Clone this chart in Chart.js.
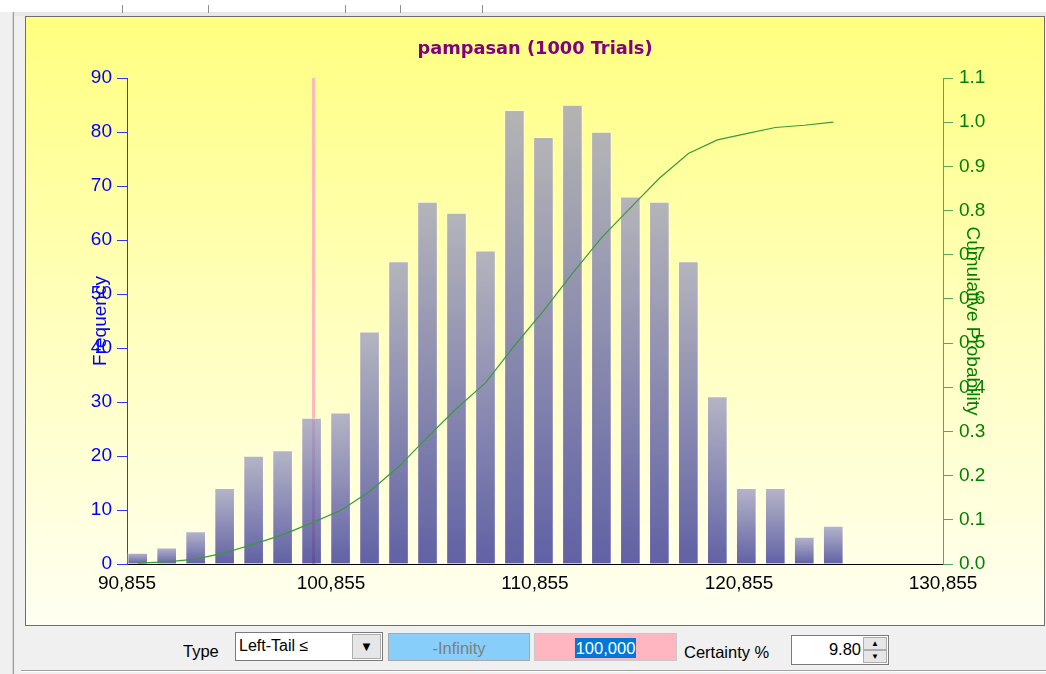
<!DOCTYPE html>
<html>
<head>
<meta charset="utf-8">
<script src="https://cdn.jsdelivr.net/npm/chart.js@4"></script>
<style>
  html, body { margin:0; padding:0; }
  body { width:1046px; height:674px; position:relative; overflow:hidden; background:#f0f0f0; font-family:"Liberation Sans", Arial, sans-serif; }
  #topwhite { position:absolute; left:0; top:0; width:1046px; height:12px; background:#ffffff; }
  #topstrip { position:absolute; left:14px; top:12px; width:1032px; height:4px; background:#e8e8e8; }
  .tmark { position:absolute; top:5px; width:1px; height:8px; background:#909090; }
  #leftline { position:absolute; left:12px; top:12px; width:1px; height:662px; background:#d8d8d8; }
  #leftline2 { position:absolute; left:13px; top:12px; width:1px; height:662px; background:#9a9a9a; }
  #panel { position:absolute; left:25px; top:16px; width:1018px; height:608px; border:1px solid #6e6e6e;
           background:linear-gradient(to bottom, #ffff80 0%, #ffffb8 45%, #fffff2 100%); }
  #wrap { position:absolute; left:0; top:0; width:1018px; height:608px; }
  #bottomline { position:absolute; left:21px; top:670px; width:1025px; height:1px; background:#a0a0a0; }
  #bottomline2 { position:absolute; left:21px; top:671px; width:1025px; height:1px; background:#ffffff; }
  .lbl { position:absolute; font-size:16px; color:#000; }
  .box { position:absolute; box-sizing:border-box; font-size:16px; }
</style>
</head>
<body>
<div id="topwhite"></div>
<div id="topstrip"></div>
<div class="tmark" style="left:122px"></div>
<div class="tmark" style="left:208px"></div>
<div class="tmark" style="left:345px"></div>
<div class="tmark" style="left:400px"></div>
<div class="tmark" style="left:482px"></div>
<div id="leftline"></div>
<div id="leftline2"></div>
<div id="panel"><div id="wrap"><canvas id="c"></canvas></div></div>

<div class="lbl" style="left:183px; top:642px; font-size:16.5px;">Type</div>
<div class="box" style="left:235px; top:632px; width:148px; height:29px; background:#fff; border:1px solid #7a7a7a;">
  <span style="position:absolute; left:3px; top:4px;">Left-Tail ≤</span>
  <div style="position:absolute; left:116px; top:1px; width:29px; height:25px; box-sizing:border-box; background:#e6e6e6; border:1px solid #adadad; text-align:center; font-size:13px; line-height:23px;">▼</div>
</div>
<div class="box" style="left:388px; top:633px; width:142px; height:28px; background:#87cefa; border:1px solid #a8a8a8; color:#7f7f7f; text-align:center; line-height:28px; font-size:16.5px;">-Infinity</div>
<div class="box" style="left:534px; top:633px; width:143px; height:28px; background:#ffb6c1; border:1px solid #c8c8c8; text-align:center; line-height:28px; font-size:16.5px;">
  <span style="background:#0078d7; color:#fff; padding:1px 1px;">100,000</span>
</div>
<div class="lbl" style="left:684px; top:643px; font-size:16.5px;">Certainty %</div>
<div class="box" style="left:791px; top:635px; width:98px; height:30px; background:#fff; border:1px solid #7a7a7a;">
  <span style="position:absolute; right:27px; top:4px; font-size:16.5px;">9.80</span>
  <div style="position:absolute; left:71px; top:1px; width:24px; height:13px; box-sizing:border-box; background:#e6e6e6; border:1px solid #adadad; font-size:8px; text-align:center; line-height:11px;">▲</div>
  <div style="position:absolute; left:71px; top:14px; width:24px; height:13px; box-sizing:border-box; background:#e6e6e6; border:1px solid #adadad; font-size:8px; text-align:center; line-height:11px;">▼</div>
</div>
<div id="bottomline"></div>
<div id="bottomline2"></div>

<script>
// ---- data ----
const chartTitle = "pampasan (1000 Trials)";
const frequencies = [2,3,6,14,20,21,27,28,43,56,67,65,58,84,79,85,80,68,67,56,31,14,14,5,7];
const firstBinCenter = 91379;
const binWidth = 1420.7;
const trials = 1000;
const xMin = 90855, xMax = 130855, xStep = 10000;
const freqMax = 90, freqStep = 10;
const probMax = 1.1, probStep = 0.1;
const certaintyValue = 100000;
const leftTitle = "Frequency";
const rightTitle = "Cumulative Probability";

// ---- derived ----
const binCenters = frequencies.map((_, i) => firstBinCenter + i * binWidth);
const barPoints = frequencies.map((f, i) => ({ x: binCenters[i], y: f }));
let run = 0;
const cumPoints = frequencies.map((f, i) => { run += f; return { x: binCenters[i], y: run / trials }; });
const pinkPoints = [{ x: certaintyValue, y: 0 }, { x: certaintyValue, y: freqMax }];

const tickFont = { family: "'Liberation Sans', Arial, sans-serif", size: 19 };

function barGradient(c) {
  const chart = c.chart;
  if (!chart.chartArea || c.type !== 'data') return 'rgba(120,120,180,0.72)';
  const ys = chart.scales.y;
  const top = ys.getPixelForValue(c.raw.y);
  const base = ys.getPixelForValue(0);
  if (!isFinite(top) || !isFinite(base) || base - top < 1) return 'rgba(120,120,180,0.72)';
  const g = chart.ctx.createLinearGradient(0, top, 0, base);
  g.addColorStop(0, 'rgba(151,151,193,0.72)');
  g.addColorStop(1, 'rgba(42,42,142,0.74)');
  return g;
}

const overlayPlugin = {
  id: 'overlayText',
  afterDraw(chart) {
    const ctx = chart.ctx;
    const a = chart.chartArea;
    const midY = (a.top + a.bottom) / 2;
    ctx.save();
    // title
    ctx.font = "bold 17.8px 'DejaVu Sans', Verdana, sans-serif";
    ctx.fillStyle = '#800080';
    ctx.textAlign = 'center';
    ctx.textBaseline = 'middle';
    ctx.fillText(chartTitle, (a.left + a.right) / 2, 32);
    // left axis title
    ctx.font = "19px 'Liberation Sans', Arial, sans-serif";
    ctx.fillStyle = '#0000ff';
    ctx.translate(a.left - 26, midY);
    ctx.rotate(-Math.PI / 2);
    ctx.fillText(leftTitle, 0, 0);
    ctx.restore();
    ctx.save();
    ctx.font = "19px 'Liberation Sans', Arial, sans-serif";
    ctx.fillStyle = '#008000';
    ctx.textAlign = 'center';
    ctx.textBaseline = 'middle';
    ctx.translate(a.right + 29, midY);
    ctx.rotate(Math.PI / 2);
    ctx.fillText(rightTitle, 0, 0);
    ctx.restore();
  }
};

new Chart(document.getElementById('c'), {
  type: 'bar',
  data: {
    datasets: [
      {
        type: 'line', label: 'certainty', data: pinkPoints, yAxisID: 'y', xAxisID: 'x',
        borderColor: '#ffb6c1', borderWidth: 3, pointRadius: 0, fill: false, order: 5
      },
      {
        type: 'bar', label: 'frequency', data: barPoints, yAxisID: 'y', xAxisID: 'x',
        backgroundColor: barGradient,
        borderColor: 'rgba(255,255,235,0.55)', borderWidth: { top: 1, left: 1, right: 1, bottom: 0 },
        borderSkipped: 'start',
        barThickness: 20, order: 3
      },
      {
        type: 'line', label: 'cumulative', data: cumPoints, yAxisID: 'y1', xAxisID: 'x',
        borderColor: '#3a9a3a', borderWidth: 1.2, pointRadius: 0, fill: false, tension: 0, order: 1
      }
    ]
  },
  options: {
    responsive: true,
    maintainAspectRatio: false,
    animation: false,
    layout: { padding: { top: 61, left: 0, right: 0, bottom: 0 } },
    plugins: { legend: { display: false }, tooltip: { enabled: false }, title: { display: false } },
    scales: {
      x: {
        type: 'linear', min: xMin, max: xMax, offset: false,
        afterFit: s => { s.height = 61; },
        afterBuildTicks: s => { s.ticks = []; for (let v = xMin; v <= xMax; v += xStep) s.ticks.push({ value: v }); },
        ticks: { color: '#000', font: tickFont, padding: 8, maxRotation: 0, autoSkip: false,
                 callback: v => Number(v).toLocaleString('en-US') },
        grid: { display: false, drawTicks: false },
        border: { display: true, color: '#000', width: 1 }
      },
      y: {
        position: 'left', min: 0, max: freqMax,
        afterFit: s => { s.width = 101; },
        ticks: { stepSize: freqStep, color: '#0000ff', font: tickFont, padding: 5 },
        grid: { drawOnChartArea: false, drawTicks: true, tickLength: 10, color: '#3333ff' },
        border: { display: true, color: '#3333ff', width: 1 }
      },
      y1: {
        position: 'right', min: 0, max: probMax,
        afterFit: s => { s.width = 101; },
        ticks: { stepSize: probStep, color: '#008000', font: tickFont, padding: 6,
                 callback: v => Number(v).toFixed(1) },
        grid: { drawOnChartArea: false, drawTicks: true, tickLength: 10, color: '#55aa55' },
        border: { display: true, color: '#55aa55', width: 1 }
      }
    }
  },
  plugins: [overlayPlugin]
});
</script>
</body>
</html>
